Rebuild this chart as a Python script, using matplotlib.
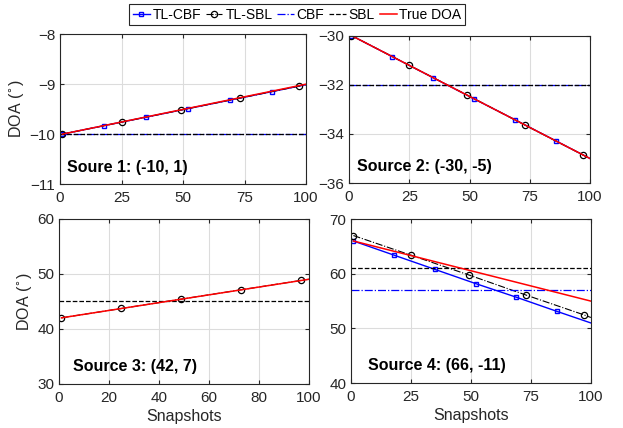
import matplotlib
matplotlib.use('Agg')
import matplotlib.pyplot as plt

plt.rcParams['font.family'] = ['Liberation Sans', 'DejaVu Sans']

# snapshot positions of the sampled points (last one is the line end)
cbf_snap = [1, 18, 35, 52, 69, 86, 100]
sbl_snap = [1, 25, 49, 73, 97, 100]
true_snap = [1, 100]

# Source 1
s1_tlcbf = [-10.0, -9.83, -9.66, -9.49, -9.32, -9.15, -9.01]
s1_tlsbl = [-10.0, -9.76, -9.52, -9.28, -9.04, -9.01]
s1_cbf = -10.0
s1_sbl = -10.0
s1_true = [-10.0, -9.0]

# Source 2
s2_tlcbf = [-30.0, -30.86, -31.72, -32.58, -33.43, -34.29, -35.0]
s2_tlsbl = [-30.0, -31.21, -32.42, -33.64, -34.85, -35.0]
s2_cbf = -32.0
s2_sbl = -32.0
s2_true = [-30.0, -35.0]

# Source 3 (TL-CBF / CBF not shown)
s3_tlsbl = [42.0, 43.7, 45.4, 47.1, 48.8, 49.0]
s3_sbl = 45.0
s3_true = [42.0, 49.0]

# Source 4
s4_tlcbf = [66.0, 63.4, 60.8, 58.2, 55.7, 53.1, 51.0]
s4_tlsbl = [67.0, 63.4, 59.8, 56.1, 52.5, 52.0]
s4_cbf = 57.0
s4_sbl = 61.0
s4_true = [66.0, 55.0]

titles = ['Soure 1: (-10, 1)', 'Source 2: (-30, -5)',
          'Source 3: (42, 7)', 'Source 4: (66, -11)']

fig = plt.figure(figsize=(6.23, 4.28), dpi=100)
rects = [[0.0963, 0.570, 0.395, 0.350],
         [0.5602, 0.572, 0.387, 0.345],
         [0.0947, 0.103, 0.401, 0.386],
         [0.5634, 0.105, 0.385, 0.383]]
axes = [fig.add_axes(r) for r in rects]

axc = '#262626'


def draw(ax, tlcbf, tlsbl, cbf, sbl, true):
    h = []
    if tlcbf is not None:
        h += ax.plot(cbf_snap, tlcbf, '-', color='b', lw=1.0, marker='s',
                     ms=3.5, mfc='none', mew=1.0, markevery=slice(0, 6),
                     label='TL-CBF')
    h += ax.plot(sbl_snap, tlsbl, '-.', color='k', lw=0.8, marker='o',
                 ms=4.5, mfc='none', mew=0.9, markevery=slice(0, 5),
                 label='TL-SBL')
    if cbf is not None:
        h += ax.plot([0, 100], [cbf, cbf], '-.', color='b', lw=0.9,
                     label='CBF')
    h += ax.plot([0, 100], [sbl, sbl], '--', color='k', lw=0.9, label='SBL')
    h += ax.plot(true_snap, true, '-', color='r', lw=1.1, label='True DOA')
    return h


draw(axes[0], s1_tlcbf, s1_tlsbl, s1_cbf, s1_sbl, s1_true)
draw(axes[1], s2_tlcbf, s2_tlsbl, s2_cbf, s2_sbl, s2_true)
draw(axes[2], None, s3_tlsbl, None, s3_sbl, s3_true)
handles = draw(axes[3], s4_tlcbf, s4_tlsbl, s4_cbf, s4_sbl, s4_true)

ylims = [(-11, -8), (-36, -30), (30, 60), (40, 70)]
yticks = [[-11, -10, -9, -8], [-36, -34, -32, -30],
          [30, 40, 50, 60], [40, 50, 60, 70]]
xticks = [[0, 25, 50, 75, 100], [0, 25, 50, 75, 100],
          [0, 20, 40, 60, 80, 100], [0, 25, 50, 75, 100]]
txt_pos = [(0.03, 0.11), (0.035, 0.11), (0.055, 0.105), (0.07, 0.11)]

for i, ax in enumerate(axes):
    ax.set_xlim(0, 100)
    ax.set_ylim(*ylims[i])
    ax.set_yticks(yticks[i])
    ax.set_xticks(xticks[i])
    ax.grid(True, color='#dcdcdc', lw=0.8)
    ax.set_axisbelow(True)
    ax.tick_params(direction='in', length=3, colors=axc, labelsize=11,
                   top=True, right=True, labelcolor=axc)
    ax.tick_params(axis='x', pad=5)
    for s in ax.spines.values():
        s.set_color(axc)
        s.set_linewidth(0.8)
    ax.text(txt_pos[i][0], txt_pos[i][1], titles[i], transform=ax.transAxes,
            fontsize=11.5, fontweight='bold', va='center', ha='left')

axes[0].set_ylabel('DOA ($^{\\circ}$)', fontsize=11.5, color=axc, labelpad=2)
axes[2].set_ylabel('DOA ($^{\\circ}$)', fontsize=11.5, color=axc, labelpad=2)
axes[2].set_xlabel('Snapshots', fontsize=11.5, color=axc, labelpad=3)
axes[3].set_xlabel('Snapshots', fontsize=11.5, color=axc, labelpad=3)

leg = fig.legend(handles=handles, loc='upper center',
                 bbox_to_anchor=(0.477, 1.0), ncol=5, fontsize=10,
                 handlelength=1.2, handletextpad=0.2, columnspacing=0.35,
                 borderpad=0.25, borderaxespad=0.3, fancybox=False,
                 frameon=True, edgecolor=axc, framealpha=1)
leg.get_frame().set_linewidth(0.8)

fig.savefig('out.png', dpi=100)
